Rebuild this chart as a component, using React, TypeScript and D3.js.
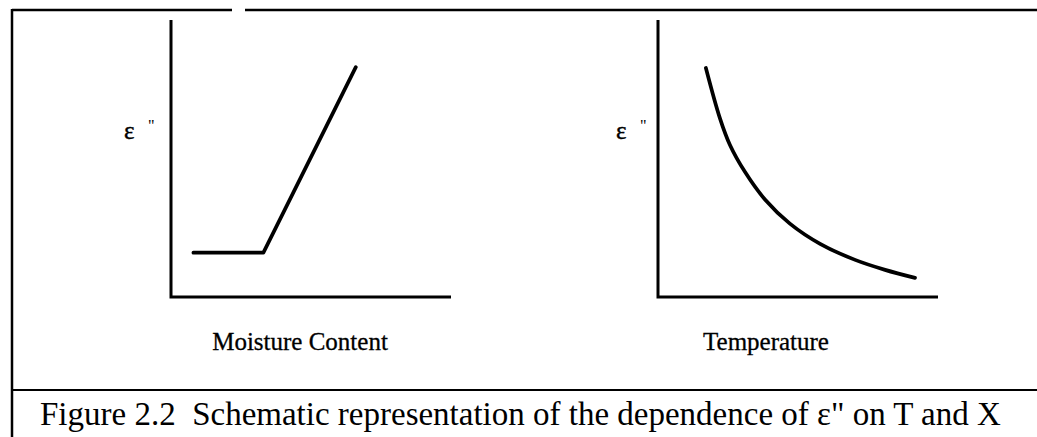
import React from 'react';
import * as d3 from 'd3';

// Schematic data (arbitrary units 0..100 on each axis)
const moistureX = [8, 33, 66];
const moistureY = [16, 16, 83];
const temperatureX = [17.1, 22.1, 25.7, 31.1, 38.2, 47.1, 57.9, 70.4, 81.1, 91.8];
const temperatureY = [82.7, 64.6, 54.9, 45.1, 35.2, 26.5, 19.2, 13.4, 9.8, 6.9];
const axisLabels = ['Moisture Content', 'Temperature'];
const yLabel = 'ε';
const caption = 'Figure 2.2  Schematic representation of the dependence of ε" on T and X';

const W = 1037;
const H = 437;
const FONT = '"Liberation Serif", "Times New Roman", serif';

type Panel = { x0: number; x1: number; label: string; lx: number; ex: number; xs: number[]; ys: number[]; curve: any };

export default function App() {
  const top = 20;
  const bottom = 297;
  const panels: Panel[] = [
    { x0: 171, x1: 451, label: axisLabels[0], lx: 300, ex: 124, xs: moistureX, ys: moistureY, curve: d3.curveLinear },
    { x0: 658, x1: 938, label: axisLabels[1], lx: 766, ex: 616, xs: temperatureX, ys: temperatureY, curve: d3.curveCatmullRom.alpha(0.5) },
  ];
  return (
    <svg width={W} height={H} style={{ position: 'absolute', left: 0, top: 0, background: '#fff' }}>
      <rect x={0} y={0} width={W} height={H} fill="#fff" />
      {/* frame */}
      <line x1={12} y1={10} x2={232} y2={10} stroke="#000" strokeWidth={2.5} />
      <line x1={245} y1={10} x2={W} y2={10} stroke="#000" strokeWidth={2.5} />
      <line x1={12} y1={9} x2={12} y2={H} stroke="#000" strokeWidth={2.5} />
      <line x1={12} y1={390} x2={W} y2={390} stroke="#000" strokeWidth={2} />
      {panels.map((p, i) => {
        const x = d3.scaleLinear().domain([0, 100]).range([p.x0, p.x1]);
        const y = d3.scaleLinear().domain([0, 100]).range([bottom, top]);
        const pts: [number, number][] = p.xs.map((v, j) => [v, p.ys[j]]);
        const line = d3.line<[number, number]>().x(d => x(d[0])).y(d => y(d[1])).curve(p.curve);
        return (
          <g key={i}>
            <path d={`M${x(0)},${y(100)}V${y(0)}H${x(100)}`} fill="none" stroke="#000" strokeWidth={3} />
            <path d={line(pts) || ''} fill="none" stroke="#000" strokeWidth={3.7} strokeLinecap="round" strokeLinejoin="round" />
            <text x={p.ex} y={139} fontFamily={FONT} fontSize={25} stroke="#000" strokeWidth={0.4}>{yLabel}</text>
            <text x={p.ex + 24} y={131} fontFamily={FONT} fontSize={16}>"</text>
            <text x={p.lx} y={350} fontFamily={FONT} fontSize={25} textAnchor="middle" stroke="#000" strokeWidth={0.3}>{p.label}</text>
          </g>
        );
      })}
      <text x={40} y={425} fontFamily={FONT} fontSize={33} style={{ whiteSpace: 'pre' }}>{caption}</text>
    </svg>
  );
}
